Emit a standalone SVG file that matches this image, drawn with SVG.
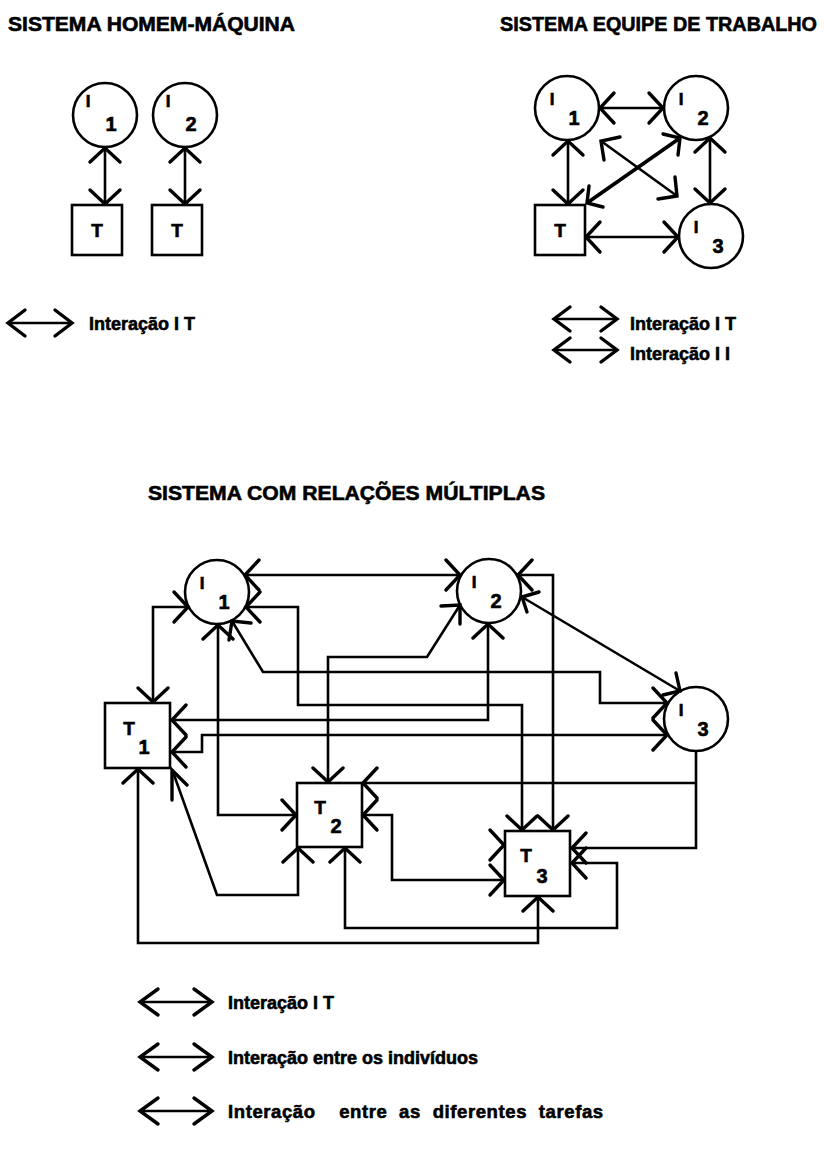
<svg xmlns="http://www.w3.org/2000/svg" width="824" height="1156" viewBox="0 0 824 1156">
<style>
.n{fill:#fff;stroke:#000;stroke-width:2.6}
.c{fill:none;stroke:#000;stroke-width:2.6;stroke-linejoin:miter}
.h{fill:none;stroke:#000;stroke-width:3.4;stroke-linecap:round;stroke-linejoin:miter}
.thick{stroke-width:3.8}
text{font-family:"Liberation Sans",Arial,sans-serif;font-weight:bold;fill:#000;stroke:#000;stroke-width:0.6}
.ti{font-size:20px}
.lg{font-size:18px}
.lg3{font-size:18.5px;letter-spacing:0.6px;word-spacing:6px}
.sI{font-size:17px;text-anchor:middle}
.sD{font-size:20px;text-anchor:middle}
.bT{font-size:19px;text-anchor:middle}
</style>
<rect width="824" height="1156" fill="#fff"/>

<!-- ===== SISTEMA HOMEM-MAQUINA ===== -->
<text class="ti" x="8" y="31" textLength="287" lengthAdjust="spacingAndGlyphs">SISTEMA HOMEM-MÁQUINA</text>
<g id="hm-I1"><circle class="n" cx="105" cy="115" r="32"/><text class="sI" x="88" y="107">I</text><text class="sD" x="111" y="131">1</text></g>
<g id="hm-I2"><circle class="n" cx="185" cy="115" r="32"/><text class="sI" x="168" y="107">I</text><text class="sD" x="191" y="131">2</text></g>
<g id="hm-T1"><rect class="n" x="72" y="205" width="50" height="50"/><text class="bT" x="97" y="237">T</text></g>
<g id="hm-T2"><rect class="n" x="152" y="205" width="50" height="50"/><text class="bT" x="177" y="237">T</text></g>
<g id="hm-connectors">
<path class="c" d="M105,148 V204 M185,148 V204"/>
<path class="h" d="M90,162 L105,148 L120,162 M90,190 L105,204 L120,190"/>
<path class="h" d="M170,162 L185,148 L200,162 M170,190 L185,204 L200,190"/>
</g>
<g id="hm-legend">
<path class="c" d="M8,323 H72"/>
<path class="h" d="M25,310 L8,323 L25,336 M55,310 L72,323 L55,336"/>
<text class="lg" x="89" y="330">Interação I T</text>
</g>

<!-- ===== SISTEMA EQUIPE DE TRABALHO ===== -->
<text class="ti" x="500" y="31" textLength="317" lengthAdjust="spacingAndGlyphs">SISTEMA EQUIPE DE TRABALHO</text>
<g id="eq-I1"><circle class="n" cx="567" cy="108" r="32"/><text class="sI" x="552" y="105">I</text><text class="sD" x="574" y="125">1</text></g>
<g id="eq-I2"><circle class="n" cx="696" cy="108" r="32"/><text class="sI" x="681" y="105">I</text><text class="sD" x="703" y="125">2</text></g>
<g id="eq-I3"><circle class="n" cx="711" cy="236" r="32"/><text class="sI" x="696" y="233">I</text><text class="sD" x="718" y="253">3</text></g>
<g id="eq-T"><rect class="n" x="535" y="205" width="50" height="50"/><text class="bT" x="560" y="237">T</text></g>
<g id="eq-connectors">
<path class="c" d="M600,108 H663 M568,141 V204 M710,138 V203 M586,237 H678"/>
<path class="h" d="M614,93 L600,108 L614,123 M649,93 L663,108 L649,123"/>
<path class="h" d="M553,155 L568,141 L583,155 M553,190 L568,204 L583,190"/>
<path class="h" d="M695,152 L710,138 L725,152 M695,189 L710,203 L725,189"/>
<path class="h" d="M600,222 L586,237 L600,252 M664,222 L678,237 L664,252"/>
<path class="c thick" d="M587,203 L680,138"/>
<path class="h" d="M603,207 L587,203 L589,186 M663,134 L680,138 L678,155"/>
<path class="c" d="M601,141 L677,196"/>
<path class="h" d="M620,137 L601,141 L604,160 M675,177 L677,196 L658,199"/>
</g>
<g id="eq-legend">
<path class="c" d="M554,319 H617"/>
<path class="h" d="M570,307 L554,319 L570,331 M601,307 L617,319 L601,331"/>
<text class="lg" x="630" y="330">Interação I T</text>
<path class="c" d="M554,350 H617"/>
<path class="h" d="M570,338 L554,350 L570,362 M601,338 L617,350 L601,362"/>
<text class="lg" x="630" y="360">Interação I I</text>
</g>

<!-- ===== SISTEMA COM RELACOES MULTIPLAS ===== -->
<text class="ti" x="148" y="500" textLength="397" lengthAdjust="spacingAndGlyphs">SISTEMA COM RELAÇÕES MÚLTIPLAS</text>
<g id="m-I1"><circle class="n" cx="217" cy="592" r="32"/><text class="sI" x="202" y="589">I</text><text class="sD" x="224" y="609">1</text></g>
<g id="m-I2"><circle class="n" cx="489" cy="591" r="32"/><text class="sI" x="474" y="588">I</text><text class="sD" x="496" y="608">2</text></g>
<g id="m-I3"><circle class="n" cx="696" cy="719" r="32"/><text class="sI" x="681" y="716">I</text><text class="sD" x="703" y="736">3</text></g>
<g id="m-T1"><rect class="n" x="105" y="703" width="65" height="65"/><text class="bT" x="129" y="735">T</text><text class="sD" x="144" y="754">1</text></g>
<g id="m-T2"><rect class="n" x="297" y="783" width="65" height="64"/><text class="bT" x="320" y="814">T</text><text class="sD" x="336" y="833">2</text></g>
<g id="m-T3"><rect class="n" x="505" y="831" width="65" height="65"/><text class="bT" x="526" y="862">T</text><text class="sD" x="542" y="883">3</text></g>

<g id="m-connectors">
<!-- I1 - I2 -->
<path class="c" d="M245,575 H460"/>
<path class="h" d="M259,560 L245,575 L259,590 M446,560 L460,575 L446,590"/>
<!-- I1 - T3 -->
<path class="c" d="M246,607 H298 V705 H522 V830"/>
<path class="h" d="M260,592 L246,607 L260,622 M507,816 L522,830 L537,816"/>
<!-- T1 - I1 -->
<path class="c" d="M153,702 V607 H188"/>
<path class="h" d="M138,688 L153,702 L168,688 M174,592 L188,607 L174,622"/>
<!-- I1 - T2 -->
<path class="c" d="M218,625 V815 H296"/>
<path class="h" d="M203,639 L218,625 L233,639 M282,800 L296,815 L282,830"/>
<!-- I1 - I3 -->
<path class="c" d="M232,621 L263,672 H600 V703 H667"/>
<path class="h" d="M251,623 L232,621 L229,640 M653,688 L667,703 L653,718"/>
<!-- T2 - I2 -->
<path class="c" d="M328,782 V657 H427 L460,605"/>
<path class="h" d="M313,768 L328,782 L343,768 M441,606 L460,605 L460,624"/>
<!-- T1 - I2 -->
<path class="c" d="M172,720 H488 V624"/>
<path class="h" d="M186,705 L172,720 L186,735 M473,638 L488,624 L503,638"/>
<!-- T1 - I3 -->
<path class="c" d="M172,752 H202 V735 H667"/>
<path class="h" d="M186,737 L172,752 L186,767 M653,720 L667,735 L653,750"/>
<!-- I2 - T3 -->
<path class="c" d="M518,575 H553 V830"/>
<path class="h" d="M532,560 L518,575 L532,590 M538,816 L553,830 L568,816"/>
<!-- I2 - I3 -->
<path class="c" d="M522,597 L680,691"/>
<path class="h" d="M539,592 L522,597 L527,612 M676,673 L680,691 L663,695"/>
<!-- I3 - T2 / T3 -->
<path class="c" d="M696,751 V848 H572 M696,783 H363"/>
<path class="h" d="M586,833 L572,848 L586,863 M377,768 L363,783 L377,798"/>
<!-- T2 - T3 (right to left) -->
<path class="c" d="M363,815 H392 V880 H504"/>
<path class="h" d="M377,800 L363,815 L377,830 M490,865 L504,880 L490,895"/>
<path class="h" d="M490,830 L504,845 L490,860"/>
<!-- T2 bottom - T3 right -->
<path class="c" d="M345,848 V928 H617 V863 H572"/>
<path class="h" d="M330,862 L345,848 L360,862 M586,848 L572,863 L586,878"/>
<!-- T1 bottom - T3 bottom -->
<path class="c" d="M138,769 V943 H538 V897"/>
<path class="h" d="M123,783 L138,769 L153,783 M523,911 L538,897 L553,911"/>
<!-- T1 corner - T2 bottom -->
<path class="c" d="M173,772 L217,895 H298 V848"/>
<path class="h" d="M172,800 L172,770 L187,785 M283,862 L298,848 L313,862"/>
</g>

<g id="m-legend">
<path class="c" d="M140,1002 H212"/>
<path class="h" d="M158,989 L140,1002 L158,1015 M194,989 L212,1002 L194,1015"/>
<text class="lg" x="228" y="1009">Interação I T</text>
<path class="c" d="M140,1057 H212"/>
<path class="h" d="M158,1044 L140,1057 L158,1070 M194,1044 L212,1057 L194,1070"/>
<text class="lg" x="228" y="1064">Interação entre os indivíduos</text>
<path class="c" d="M140,1111 H212"/>
<path class="h" d="M158,1098 L140,1111 L158,1124 M194,1098 L212,1111 L194,1124"/>
<text class="lg3" x="228" y="1118" xml:space="preserve">Interação  entre as diferentes tarefas</text>
</g>
</svg>
